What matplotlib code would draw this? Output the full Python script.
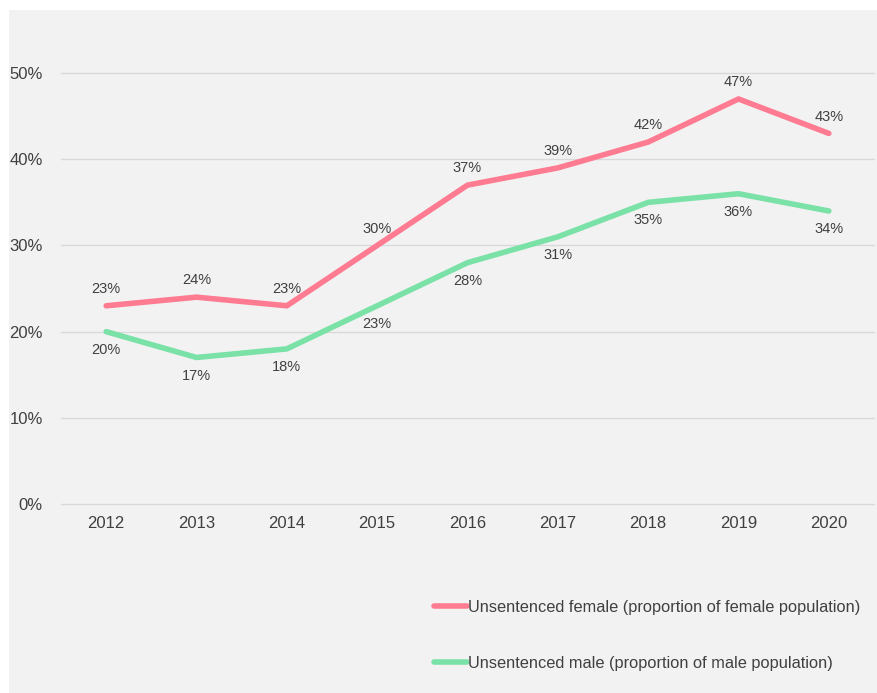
import matplotlib
matplotlib.use("Agg")
import matplotlib.pyplot as plt
from matplotlib.patches import Rectangle
from matplotlib.ticker import PercentFormatter

plt.rcParams['font.family'] = ['Liberation Sans', 'DejaVu Sans']

years = ['2012', '2013', '2014', '2015', '2016', '2017', '2018', '2019', '2020']
female = [23, 24, 23, 30, 37, 39, 42, 47, 43]
male = [20, 17, 18, 23, 28, 31, 35, 36, 34]
female_label = 'Unsentenced female (proportion of female population)'
male_label = 'Unsentenced male (proportion of male population)'

pink = '#ff7b91'
green = '#7ae1a7'
text_col = '#404040'
bg = '#f2f2f2'

fig = plt.figure(figsize=(8.77, 6.93), dpi=100, facecolor='white')
# grey panel behind the chart
fig.patches.append(Rectangle((9 / 877, 0), 868 / 877, 1 - 10 / 693,
                             transform=fig.transFigure, facecolor=bg,
                             edgecolor='none', zorder=0))

ax = fig.add_axes([61 / 877, 1 - 504 / 693, 813 / 877, 474 / 693])
ax.set_zorder(2)
ax.patch.set_alpha(0)

x = range(len(years))
ax.plot(x, female, color=pink, lw=4, solid_capstyle='round',
        solid_joinstyle='round', label=female_label, zorder=3)
ax.plot(x, male, color=green, lw=4, solid_capstyle='round',
        solid_joinstyle='round', label=male_label, zorder=3)

for i, v in enumerate(female):
    ax.annotate(f'{v}%', (i, v), xytext=(0, 12), textcoords='offset points',
                ha='center', va='center', fontsize=10.5, color=text_col)
for i, v in enumerate(male):
    ax.annotate(f'{v}%', (i, v), xytext=(0, -13), textcoords='offset points',
                ha='center', va='center', fontsize=10.5, color=text_col)

ax.set_xlim(-0.5, len(years) - 0.5)
ax.set_ylim(0, 55)
ax.set_yticks([0, 10, 20, 30, 40, 50])
ax.yaxis.set_major_formatter(PercentFormatter(decimals=0))
ax.set_xticks(list(x))
ax.set_xticklabels(years)
ax.grid(axis='y', color='#d9d9d9', lw=1)
for gl in ax.get_ygridlines():
    gl.set_clip_on(False)
ax.set_axisbelow(True)
for s in ax.spines.values():
    s.set_visible(False)
ax.tick_params(axis='both', length=0, labelsize=12, colors=text_col)
ax.tick_params(axis='y', pad=13)
ax.tick_params(axis='x', pad=9)

leg = fig.legend(loc='upper left', bbox_to_anchor=(434 / 877, 1 - 600 / 693),
                 frameon=False, fontsize=11.8, handlelength=2.0,
                 handletextpad=0.1, labelspacing=2.5, labelcolor=text_col,
                 borderaxespad=0, borderpad=0)
leg.set_zorder(3)

fig.savefig('out.png', dpi=100, facecolor=fig.get_facecolor())
